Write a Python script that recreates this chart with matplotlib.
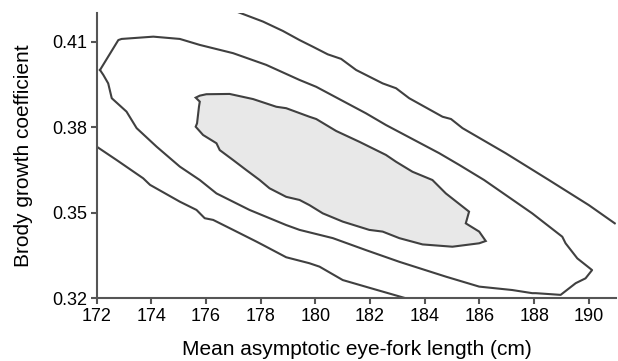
import numpy as np
import matplotlib
matplotlib.use("Agg")
import matplotlib.pyplot as plt

plt.rcParams['font.family'] = ['Liberation Sans', 'DejaVu Sans']

# Outer contour (open, two lines)
outer_upper_x = [177.17, 178.08, 178.81, 179.42, 179.90, 180.45, 180.94, 181.49, 182.46,
                 182.95, 183.43, 184.65, 184.96, 185.38, 186.96, 188.54, 190.00, 190.95]
outer_upper_y = [0.4204, 0.4171, 0.4138, 0.4106, 0.4083, 0.4056, 0.4040, 0.4001, 0.3954,
                 0.3937, 0.3902, 0.3837, 0.3829, 0.3797, 0.3709, 0.3615, 0.3527, 0.3463]
outer_lower_x = [172.00, 172.73, 173.70, 173.95, 175.04, 175.65, 175.95, 176.26, 176.99,
                 177.84, 178.08, 178.93, 179.78, 180.15, 181.00, 181.97, 183.31]
outer_lower_y = [0.3732, 0.3685, 0.3621, 0.3598, 0.3539, 0.3510, 0.3481, 0.3475, 0.3440,
                 0.3399, 0.3387, 0.3344, 0.3323, 0.3311, 0.3264, 0.3237, 0.3200]

# Middle contour (closed)
mid_x = [172.12, 172.79, 172.91, 174.07, 175.04, 175.77, 176.99, 178.20, 179.42, 180.03,
         181.85, 182.58, 184.53, 185.26, 186.17, 187.93, 189.03, 189.15, 189.58, 190.12,
         189.88, 189.52, 188.97, 188.06, 187.93, 187.20, 185.99, 184.77, 183.07, 181.85,
         180.64, 179.42, 178.93, 177.59, 176.38, 175.77, 175.04, 174.19, 173.46, 173.09,
         172.55, 172.42, 172.24, 172.12]
mid_y = [0.4001, 0.4106, 0.4110, 0.4118, 0.4110, 0.4089, 0.4060, 0.4019, 0.3966, 0.3942,
         0.3849, 0.3808, 0.3709, 0.3668, 0.3615, 0.3498, 0.3416, 0.3393, 0.3340, 0.3299,
         0.3270, 0.3253, 0.3212, 0.3218, 0.3218, 0.3229, 0.3241, 0.3276, 0.3328, 0.3369,
         0.3411, 0.3440, 0.3457, 0.3510, 0.3568, 0.3615, 0.3662, 0.3732, 0.3797, 0.3855,
         0.3902, 0.3954, 0.3984, 0.4001]

# Inner contour (filled)
inner_x = [175.62, 175.77, 176.01, 176.86, 177.72, 178.57, 178.93, 179.78, 180.03, 180.76,
           181.61, 182.58, 182.95, 183.55, 184.28, 184.77, 185.62, 185.50, 185.99, 186.23,
           185.99, 185.01, 183.92, 183.07, 182.46, 181.97, 181.00, 180.27, 179.78, 179.42,
           178.93, 178.32, 177.96, 177.47, 176.99, 176.50, 176.38, 175.89, 175.62, 175.67,
           175.74, 175.77, 175.62]
inner_y = [0.3904, 0.3911, 0.3916, 0.3917, 0.3899, 0.3872, 0.3867, 0.3837, 0.3829, 0.3787,
           0.3749, 0.3703, 0.3679, 0.3644, 0.3615, 0.3568, 0.3504, 0.3463, 0.3434, 0.3401,
           0.3393, 0.3381, 0.3389, 0.3411, 0.3434, 0.3440, 0.3469, 0.3498, 0.3527, 0.3545,
           0.3556, 0.3586, 0.3615, 0.3650, 0.3685, 0.3720, 0.3744, 0.3773, 0.3802, 0.3814,
           0.3872, 0.3890, 0.3904]

x_ticks = [172, 174, 176, 178, 180, 182, 184, 186, 188, 190]
y_ticks = [0.32, 0.35, 0.38, 0.41]

line_color = '#404040'
lw = 1.5

fig = plt.figure(figsize=(6.18, 3.61), dpi=100)
ax = fig.add_axes([0.1565, 0.1737, 0.8405, 0.7895])

ax.fill(inner_x, inner_y, facecolor='#e8e8e8', edgecolor=line_color, linewidth=lw)
ax.plot(mid_x, mid_y, color=line_color, linewidth=lw)
ax.plot(outer_upper_x, outer_upper_y, color=line_color, linewidth=lw)
ax.plot(outer_lower_x, outer_lower_y, color=line_color, linewidth=lw)

ax.set_xlim(172, 191)
ax.set_ylim(0.32, 0.42)
ax.set_xticks(x_ticks)
ax.set_yticks(y_ticks)
ax.set_yticklabels([f"{v:.2f}" for v in y_ticks])

for s in ['top', 'right']:
    ax.spines[s].set_visible(False)
for s in ['left', 'bottom']:
    ax.spines[s].set_color('#555555')
    ax.spines[s].set_linewidth(1.5)
ax.tick_params(direction='out', length=4, width=1.5, color='#555555', labelsize=13, pad=3)

ax.set_xlabel("Mean asymptotic eye-fork length (cm)", fontsize=15, va='center')
ax.set_ylabel("Brody growth coefficient", fontsize=15, va='center')
ax.xaxis.set_label_coords(0.5, -0.18)
ax.yaxis.set_label_coords(-0.14, 0.5)

fig.savefig("out.png", dpi=100)
